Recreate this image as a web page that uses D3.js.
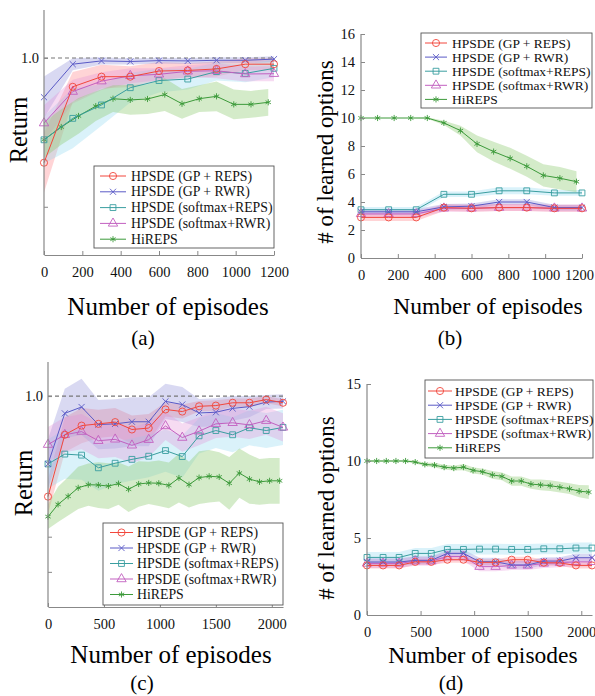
<!DOCTYPE html>
<head>
<style>
  body { margin: 0; background: #fff; }
  svg text { font-family: "Liberation Serif", "Times New Roman", serif; }
</style>
</head>
<body>
<script src="https://d3js.org/d3.v7.min.js"></script>
<script>
var seriesNames = ['HPSDE (GP + REPS)', 'HPSDE (GP + RWR)', 'HPSDE (softmax+REPS)', 'HPSDE (softmax+RWR)', 'HiREPS'];
var lineColors = ['#f2473c', '#5a5ac6', '#3a9ea0', '#c260c0', '#3c9a3a'];
var bandColors = ['#ff7a80', '#8a8ad8', '#8cd6ee', '#e48ed6', '#8fca72'];

// (a) return, 1200 episodes
var epA = [0, 150, 300, 450, 600, 750, 900, 1050, 1200];
var epAHi = [0, 90, 180, 270, 360, 450, 540, 630, 720, 810, 900, 990, 1080, 1170];
var retA_gpReps = [0.648, 0.903, 0.937, 0.937, 0.956, 0.958, 0.963, 0.979, 0.979];
var retA_gpRwr = [0.868, 0.979, 0.990, 0.988, 0.991, 0.990, 0.992, 0.992, 0.996];
var retA_smReps = [0.725, 0.797, 0.842, 0.900, 0.924, 0.929, 0.954, 0.948, 0.965];
var retA_smRwr = [0.781, 0.887, 0.922, 0.940, 0.945, 0.955, 0.957, 0.946, 0.947];
var retA_hiReps = [0.725, 0.768, 0.805, 0.838, 0.863, 0.859, 0.862, 0.877, 0.846, 0.863, 0.871, 0.844, 0.844, 0.851];
var sdA_gpReps = [0.10, 0.05, 0.04, 0.035, 0.03, 0.025, 0.025, 0.02, 0.02];
var sdA_gpRwr = [0.07, 0.02, 0.012, 0.01, 0.01, 0.01, 0.01, 0.01, 0.01];
var sdA_smReps = [0.08, 0.10, 0.07, 0.05, 0.04, 0.035, 0.03, 0.03, 0.03];
var sdA_smRwr = [0.06, 0.04, 0.03, 0.025, 0.02, 0.02, 0.025, 0.025, 0.025];
var sdA_hiReps = [0.06, 0.06, 0.06, 0.05, 0.045, 0.05, 0.05, 0.055, 0.05, 0.045, 0.05, 0.05, 0.045, 0.045];

// (b) number of options, 1200 episodes
var optB_gpReps = [2.9, 2.9, 2.9, 3.6, 3.55, 3.6, 3.6, 3.55, 3.55];
var optB_gpRwr = [3.3, 3.3, 3.3, 3.65, 3.7, 4.0, 4.0, 3.6, 3.6];
var optB_smReps = [3.45, 3.45, 3.45, 4.55, 4.55, 4.8, 4.8, 4.65, 4.65];
var optB_smRwr = [3.15, 3.15, 3.15, 3.55, 3.55, 3.6, 3.6, 3.55, 3.55];
var optB_hiReps = [10, 10, 10, 10, 10, 9.65, 9.1, 8.15, 7.6, 7.12, 6.55, 5.9, 5.7, 5.45];
var sdB_gpReps = [0.25, 0.25, 0.25, 0.25, 0.25, 0.25, 0.25, 0.25, 0.25];
var sdB_gpRwr = [0.2, 0.2, 0.2, 0.2, 0.2, 0.2, 0.2, 0.2, 0.2];
var sdB_smReps = [0.2, 0.2, 0.2, 0.2, 0.2, 0.25, 0.25, 0.2, 0.2];
var sdB_smRwr = [0.25, 0.25, 0.25, 0.25, 0.25, 0.25, 0.25, 0.25, 0.25];
var sdB_hiReps = [0, 0, 0, 0, 0.05, 0.15, 0.35, 0.6, 0.7, 0.75, 0.75, 0.8, 0.8, 0.75];

// (c) return, 2100 episodes
var epC = [0, 150, 300, 450, 600, 750, 900, 1050, 1200, 1350, 1500, 1650, 1800, 1950, 2100];
var epCHi = [0, 90, 180, 270, 360, 450, 540, 630, 720, 810, 900, 990, 1080, 1170, 1260, 1350, 1440, 1530, 1620, 1710, 1800, 1890, 1980, 2070];
var retC_gpReps = [0.714, 0.890, 0.916, 0.921, 0.926, 0.905, 0.909, 0.962, 0.956, 0.971, 0.973, 0.981, 0.981, 0.990, 0.981];
var retC_gpRwr = [0.807, 0.951, 0.969, 0.919, 0.921, 0.927, 0.927, 0.985, 0.976, 0.952, 0.954, 0.965, 0.970, 0.983, 0.985];
var retC_smReps = [0.807, 0.835, 0.832, 0.796, 0.809, 0.820, 0.829, 0.845, 0.828, 0.887, 0.902, 0.890, 0.910, 0.902, 0.911];
var retC_smRwr = [0.862, 0.890, 0.899, 0.873, 0.877, 0.860, 0.876, 0.915, 0.882, 0.900, 0.921, 0.924, 0.918, 0.930, 0.911];
var retC_hiReps = [0.657, 0.692, 0.715, 0.739, 0.748, 0.747, 0.744, 0.751, 0.735, 0.750, 0.753, 0.752, 0.746, 0.767, 0.748, 0.768, 0.772, 0.770, 0.752, 0.781, 0.764, 0.756, 0.759, 0.759];
var sdC_gpReps = [0.05, 0.05, 0.05, 0.04, 0.04, 0.04, 0.04, 0.02, 0.02, 0.015, 0.015, 0.012, 0.012, 0.01, 0.01];
var sdC_gpRwr = [0.07, 0.07, 0.08, 0.07, 0.07, 0.07, 0.07, 0.05, 0.05, 0.04, 0.04, 0.035, 0.03, 0.02, 0.02];
var sdC_smReps = [0.07, 0.07, 0.07, 0.065, 0.06, 0.06, 0.06, 0.06, 0.06, 0.05, 0.05, 0.05, 0.05, 0.05, 0.05];
var sdC_smRwr = [0.05, 0.05, 0.05, 0.05, 0.05, 0.05, 0.05, 0.04, 0.04, 0.04, 0.04, 0.04, 0.04, 0.04, 0.04];
var sdC_hiReps = [0.035, 0.05, 0.055, 0.06, 0.06, 0.065, 0.065, 0.06, 0.065, 0.065, 0.06, 0.065, 0.065, 0.07, 0.065, 0.075, 0.075, 0.07, 0.075, 0.07, 0.07, 0.065, 0.065, 0.065];

// (d) number of options, 2100 episodes
var optD_gpReps = [3.22, 3.22, 3.22, 3.45, 3.45, 3.59, 3.59, 3.42, 3.42, 3.59, 3.59, 3.4, 3.38, 3.22, 3.22];
var optD_gpRwr = [3.44, 3.44, 3.44, 3.55, 3.55, 4.0, 4.0, 3.46, 3.46, 3.25, 3.25, 3.5, 3.5, 3.72, 3.72];
var optD_smReps = [3.74, 3.74, 3.74, 4.0, 4.0, 4.26, 4.26, 4.28, 4.28, 4.26, 4.26, 4.3, 4.3, 4.35, 4.35];
var optD_smRwr = [3.35, 3.35, 3.35, 3.5, 3.5, 3.8, 3.8, 3.14, 3.14, 3.22, 3.22, 3.35, 3.4, 3.45, 3.45];
var optD_hiReps = [10, 10, 10, 10, 10, 9.93, 9.78, 9.73, 9.6, 9.54, 9.6, 9.39, 9.3, 9.1, 9.0, 8.7, 8.7, 8.5, 8.45, 8.4, 8.3, 8.2, 8.04, 7.98];
var sdD_gpReps = [0.2, 0.2, 0.2, 0.2, 0.2, 0.2, 0.2, 0.2, 0.2, 0.2, 0.2, 0.2, 0.2, 0.2, 0.2];
var sdD_gpRwr = [0.25, 0.25, 0.25, 0.25, 0.25, 0.25, 0.25, 0.25, 0.25, 0.25, 0.25, 0.25, 0.25, 0.25, 0.25];
var sdD_smReps = [0.35, 0.35, 0.35, 0.35, 0.35, 0.35, 0.35, 0.35, 0.35, 0.35, 0.35, 0.35, 0.35, 0.35, 0.35];
var sdD_smRwr = [0.3, 0.3, 0.3, 0.3, 0.3, 0.3, 0.3, 0.3, 0.3, 0.3, 0.3, 0.3, 0.3, 0.3, 0.3];
var sdD_hiReps = [0.05, 0.05, 0.05, 0.05, 0.05, 0.1, 0.1, 0.15, 0.15, 0.15, 0.2, 0.2, 0.2, 0.25, 0.25, 0.3, 0.3, 0.3, 0.35, 0.35, 0.35, 0.35, 0.4, 0.45];

var xTicksA = [0, 200, 400, 600, 800, 1000, 1200];
var xTicksC = [0, 500, 1000, 1500, 2000];
var yTicksB = [0, 2, 4, 6, 8, 10, 12, 14, 16];
var yTicksD = [0, 5, 10, 15];

var FONT = '"Liberation Serif", "Times New Roman", serif';

var svg = d3.select('body').append('svg')
    .attr('width', 595).attr('height', 696);

var symbols = [d3.symbolCircle, d3.symbolTimes || d3.symbolCross, d3.symbolSquare,
               d3.symbolTriangle, d3.symbolAsterisk || d3.symbolStar];
var symbolSizes = [40, 26, 34, 38, 26];

function makeSeries(xs, vals, sds) {
    return vals.map((v, i) => ({ e: xs[i], v: v, sd: sds[i] }));
}

function drawPanel(p) {
    var g = svg.append('g');
    var x = d3.scaleLinear().domain(p.xDomain).range([p.left, p.right]);
    var y = d3.scaleLinear().domain(p.yDomain).range([p.bottom, p.top]);

    // shaded bands (std)
    p.series.forEach(function(s, i) {
        g.append('path').datum(s)
            .attr('d', d3.area().x(d => x(d.e)).y0(d => y(d.v - d.sd)).y1(d => y(d.v + d.sd)))
            .attr('fill', bandColors[i])
            .attr('fill-opacity', i == 4 ? 0.38 : 0.32);
    });

    if (p.refLine) {
        g.append('line')
            .attr('x1', x(p.xDomain[0])).attr('x2', x(p.xDomain[1]))
            .attr('y1', y(1)).attr('y2', y(1))
            .attr('stroke', '#777').attr('stroke-width', 1.1)
            .attr('stroke-dasharray', '4,3');
    }

    // lines and markers, red drawn last
    [4, 2, 3, 1, 0].forEach(function(i) {
        var s = p.series[i];
        g.append('path').datum(s)
            .attr('d', d3.line().x(d => x(d.e)).y(d => y(d.v)))
            .attr('fill', 'none')
            .attr('stroke', lineColors[i])
            .attr('stroke-width', 1);
        g.selectAll(null).data(s).enter().append('path')
            .attr('transform', d => 'translate(' + x(d.e) + ',' + y(d.v) + ')')
            .attr('d', d3.symbol().type(symbols[i]).size(symbolSizes[i]))
            .attr('fill', 'none')
            .attr('stroke', lineColors[i])
            .attr('stroke-width', 0.9);
    });

    // axes
    var xAxis = g.append('g')
        .attr('transform', 'translate(0,' + p.bottom + ')')
        .call(d3.axisBottom(x).tickValues(p.xTicks).tickSize(-4).tickSizeOuter(0)
              .tickPadding(12).tickFormat(d3.format('d')));
    var yAxis = g.append('g')
        .attr('transform', 'translate(' + p.left + ',0)')
        .call(d3.axisLeft(y).tickValues(p.yTicks).tickSize(-4).tickSizeOuter(0)
              .tickPadding(p.yPad).tickFormat(p.yFormat));
    [xAxis, yAxis].forEach(function(a) {
        a.attr('font-family', FONT).attr('font-size', 14.5);
        a.select('.domain').attr('stroke', '#888').attr('stroke-width', 1.2);
        a.selectAll('.tick line').attr('stroke', '#888');
        a.selectAll('.tick text')
            .attr('fill', '#111')
            .attr('font-family', FONT);
    });
    yAxis.select('.domain').attr('d', 'M0,' + p.bottom + 'V' + p.axisTop);
    // keep the last x label inside the page
    if (p.lastShift) {
        xAxis.selectAll('.tick text').filter(d => d === p.xTicks[p.xTicks.length - 1])
            .attr('dx', -p.lastShift);
    }

    // legend
    var lg = g.append('g');
    lg.append('rect')
        .attr('x', p.legend.x).attr('y', p.legend.y)
        .attr('width', p.legend.w).attr('height', p.legend.h)
        .attr('fill', '#fff').attr('stroke', '#555').attr('stroke-width', 0.9);
    seriesNames.forEach(function(name, i) {
        var ly = p.legend.y + p.legend.first + i * p.legend.step;
        var x0 = p.legend.x + p.legend.lx;
        lg.append('line')
            .attr('x1', x0).attr('x2', x0 + p.legend.lw)
            .attr('y1', ly).attr('y2', ly)
            .attr('stroke', lineColors[i]).attr('stroke-width', 1);
        lg.append('path')
            .attr('transform', 'translate(' + (x0 + p.legend.lw / 2) + ',' + ly + ')')
            .attr('d', d3.symbol().type(symbols[i]).size(symbolSizes[i]))
            .attr('fill', 'none').attr('stroke', lineColors[i]).attr('stroke-width', 0.9);
        lg.append('text')
            .attr('x', p.legend.x + p.legend.tx).attr('y', ly)
            .attr('dominant-baseline', 'central')
            .attr('font-family', FONT)
            .attr('font-size', p.legend.fs)
            .attr('fill', '#111')
            .text(name);
    });

    // labels
    g.append('text')
        .attr('x', p.xLabel[0]).attr('y', p.xLabel[1])
        .attr('text-anchor', 'middle').attr('dominant-baseline', 'central')
        .attr('font-family', FONT).attr('font-size', p.xLabel[2])
        .text('Number of episodes');
    g.append('text')
        .attr('transform', 'translate(' + p.yLabel[0] + ',' + p.yLabel[1] + ') rotate(-90)')
        .attr('text-anchor', 'middle').attr('dominant-baseline', 'central')
        .attr('font-family', FONT).attr('font-size', p.yLabel[2])
        .text(p.yText);
    g.append('text')
        .attr('x', p.tag[0]).attr('y', p.tag[1])
        .attr('text-anchor', 'middle').attr('dominant-baseline', 'central')
        .attr('font-family', FONT).attr('font-size', 21)
        .text(p.tagText);
}

var retFormat = d => (d === 1 ? '1.0' : '');

drawPanel({
    xDomain: [0, 1200], yDomain: [0.338, 1.161],
    left: 44, right: 274, top: 10, bottom: 255, axisTop: 10,
    xTicks: xTicksA, yTicks: [0.5, 1.0], yFormat: retFormat, yPad: 5,
    refLine: true,
    series: [makeSeries(epA, retA_gpReps, sdA_gpReps), makeSeries(epA, retA_gpRwr, sdA_gpRwr),
             makeSeries(epA, retA_smReps, sdA_smReps), makeSeries(epA, retA_smRwr, sdA_smRwr),
             makeSeries(epAHi, retA_hiReps, sdA_hiReps)],
    legend: { x: 94, y: 166, w: 180, h: 82, first: 10, step: 15.8, lx: 6, lw: 26, tx: 37, fs: 13.8 },
    xLabel: [168, 306, 25], yLabel: [18, 130, 24.5], yText: 'Return',
    tag: [143, 338], tagText: '(a)'
});

drawPanel({
    xDomain: [0, 1200], yDomain: [0, 16],
    left: 361, right: 582, top: 34, bottom: 258, axisTop: 34,
    xTicks: xTicksA, yTicks: yTicksB, yFormat: d3.format('d'), yPad: 6,
    refLine: false, lastShift: 3,
    series: [makeSeries(epA, optB_gpReps, sdB_gpReps), makeSeries(epA, optB_gpRwr, sdB_gpRwr),
             makeSeries(epA, optB_smReps, sdB_smReps), makeSeries(epA, optB_smRwr, sdB_smRwr),
             makeSeries(epAHi, optB_hiReps, sdB_hiReps)],
    legend: { x: 421, y: 33, w: 171, h: 75, first: 10, step: 14.1, lx: 4, lw: 22, tx: 31, fs: 13.5 },
    xLabel: [488, 306, 23.5], yLabel: [325, 152, 23], yText: '# of learned options',
    tag: [450, 338], tagText: '(b)'
});

drawPanel({
    xDomain: [0, 2100], yDomain: [0.40, 1.097],
    left: 48, right: 283, top: 362, bottom: 607, axisTop: 362,
    xTicks: xTicksC, yTicks: [0.5, 0.6, 1.0], yFormat: retFormat, yPad: 5,
    refLine: true,
    series: [makeSeries(epC, retC_gpReps, sdC_gpReps), makeSeries(epC, retC_gpRwr, sdC_gpRwr),
             makeSeries(epC, retC_smReps, sdC_smReps), makeSeries(epC, retC_smRwr, sdC_smRwr),
             makeSeries(epCHi, retC_hiReps, sdC_hiReps)],
    legend: { x: 103, y: 523, w: 180, h: 82, first: 9.5, step: 15.5, lx: 7, lw: 23, tx: 34, fs: 13.8 },
    xLabel: [171, 654, 25], yLabel: [23, 483, 24.5], yText: 'Return',
    tag: [142, 683], tagText: '(c)'
});

drawPanel({
    xDomain: [0, 2100], yDomain: [0, 15],
    left: 367, right: 592, top: 384, bottom: 615, axisTop: 384,
    xTicks: xTicksC, yTicks: yTicksD, yFormat: d3.format('d'), yPad: 6,
    refLine: false,
    series: [makeSeries(epC, optD_gpReps, sdD_gpReps), makeSeries(epC, optD_gpRwr, sdD_gpRwr),
             makeSeries(epC, optD_smReps, sdD_smReps), makeSeries(epC, optD_smRwr, sdD_smRwr),
             makeSeries(epCHi, optD_hiReps, sdD_hiReps)],
    legend: { x: 425, y: 380, w: 168, h: 78, first: 11, step: 14.2, lx: 3, lw: 24, tx: 30, fs: 13.5 },
    xLabel: [483, 655, 23.5], yLabel: [326, 508, 23], yText: '# of learned options',
    tag: [451, 683], tagText: '(d)'
});
</script>
</body>
